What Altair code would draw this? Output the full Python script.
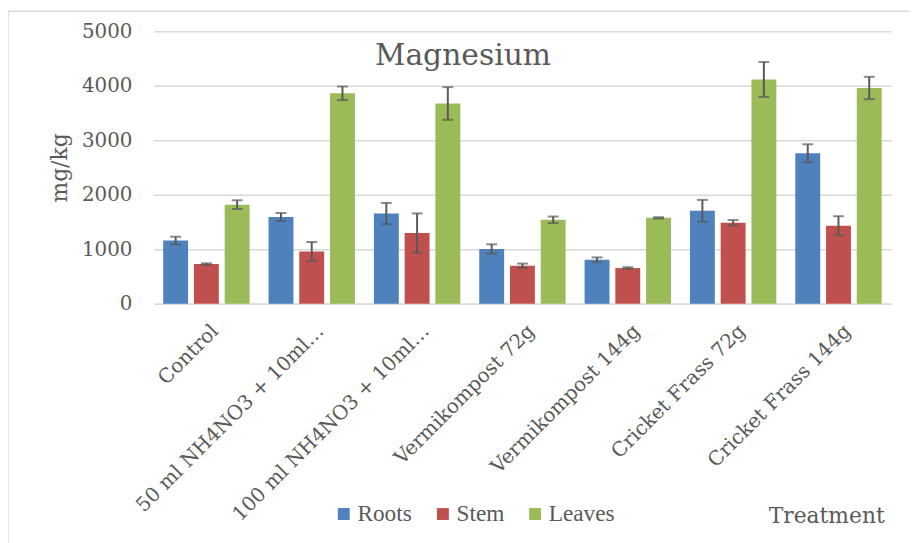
import altair as alt
import pandas as pd

categories = ["Control", "50 ml NH4NO3 + 10ml…", "100 ml NH4NO3 + 10ml…",
              "Vermikompost 72g", "Vermikompost 144g", "Cricket Frass 72g", "Cricket Frass 144g"]
parts = ["Roots", "Stem", "Leaves"]
colors = ["#4F81BD", "#C0504D", "#9BBB59"]
title_text = "Magnesium"

roots = [1160, 1590, 1655, 1005, 805, 1705, 2760]
roots_err = [70, 75, 195, 85, 45, 200, 165]
stem = [727, 958, 1297, 697, 655, 1485, 1430]
stem_err = [15, 175, 360, 40, 15, 50, 175]
leaves = [1818, 3860, 3673, 1540, 1576, 4115, 3958]
leaves_err = [80, 125, 300, 60, 12, 320, 205]

rows = []
for part, vals, errs in [("Roots", roots, roots_err), ("Stem", stem, stem_err), ("Leaves", leaves, leaves_err)]:
    for c, v, e in zip(categories, vals, errs):
        rows.append({"Treatment": c, "Part": part, "value": v, "lo": v - e, "hi": v + e})
df = pd.DataFrame(rows)

FONT = "DejaVu Serif"
GREY = "#595959"

x_enc = alt.X("Treatment:N", sort=categories,
              scale=alt.Scale(paddingInner=0.18, paddingOuter=0.09),
              axis=alt.Axis(title="Treatment", labelAngle=-45, labelAlign="right",
                            labelBaseline="middle", labelPadding=24, labelOffset=9,
                            labelFontSize=20, labelFont=FONT, labelColor=GREY, labelLimit=0,
                            ticks=False, domain=True, domainColor="#D9D9D9", domainWidth=1.5,
                            titleFont=FONT, titleFontSize=22, titleColor=GREY,
                            titleFontWeight="normal", titleAnchor="end", titleAlign="right",
                            titleX=737, titleY=214, titleBaseline="middle"))
xoff = alt.XOffset("Part:N", sort=parts, scale=alt.Scale(paddingInner=0.19, paddingOuter=0))

base = alt.Chart(df).encode(x=x_enc, xOffset=xoff)

bars = base.mark_bar().encode(
    y=alt.Y("value:Q", scale=alt.Scale(domain=[0, 5000]),
            axis=alt.Axis(title="mg/kg", values=[0, 1000, 2000, 3000, 4000, 5000], format="d",
                          grid=True, gridColor="#D9D9D9", gridWidth=1.5,
                          domain=False, ticks=False, labelFont=FONT, labelFontSize=20,
                          labelColor=GREY, labelPadding=22, titleFont=FONT,
                          titleFontSize=22, titleColor=GREY, titleFontWeight="normal",
                          titlePadding=10)),
    color=alt.Color("Part:N", sort=parts, scale=alt.Scale(domain=parts, range=colors),
                    legend=alt.Legend(title=None, orient="none", direction="horizontal",
                                      legendX=180, legendY=475, symbolType="square",
                                      symbolSize=144, symbolStrokeWidth=0,
                                      labelFont="Liberation Serif", labelFontSize=23.5,
                                      labelColor=GREY, labelFontWeight="normal",
                                      labelFontStyle="normal",
                                      labelOffset=2, columnPadding=19, padding=0)),
)

err = base.mark_rule(color=GREY, strokeWidth=2).encode(y="lo:Q", y2="hi:Q")
cap_lo = base.mark_tick(color=GREY, thickness=2, size=11, orient="horizontal").encode(y="lo:Q")
cap_hi = base.mark_tick(color=GREY, thickness=2, size=11, orient="horizontal").encode(y="hi:Q")

one = pd.DataFrame({"t": [title_text]})
title_mark = alt.Chart(one).mark_text(font=FONT, fontSize=30, color=GREY, align="center",
                                      baseline="alphabetic").encode(
    text="t:N", x=alt.value(312), y=alt.value(34))

frame_left = alt.Chart(one).mark_rule(color="#D9D9D9", strokeWidth=1.5).encode(
    x=alt.value(-147), y=alt.value(-20), y2=alt.value(520))
frame_top = alt.Chart(one).mark_rule(color="#D9D9D9", strokeWidth=1.5).encode(
    x=alt.value(-147), x2=alt.value(770), y=alt.value(-20))

chart = alt.layer(frame_left, frame_top, bars, err, cap_lo, cap_hi, title_mark).properties(
    width=744, height=275,
    autosize=alt.AutoSizeParams(type="none"),
    padding={"left": 147, "top": 21, "right": 18, "bottom": 239},
).configure(background="white", font=FONT).configure_view(stroke=None)

chart.save("out.html", embed_options={"renderer": "svg", "actions": False})
